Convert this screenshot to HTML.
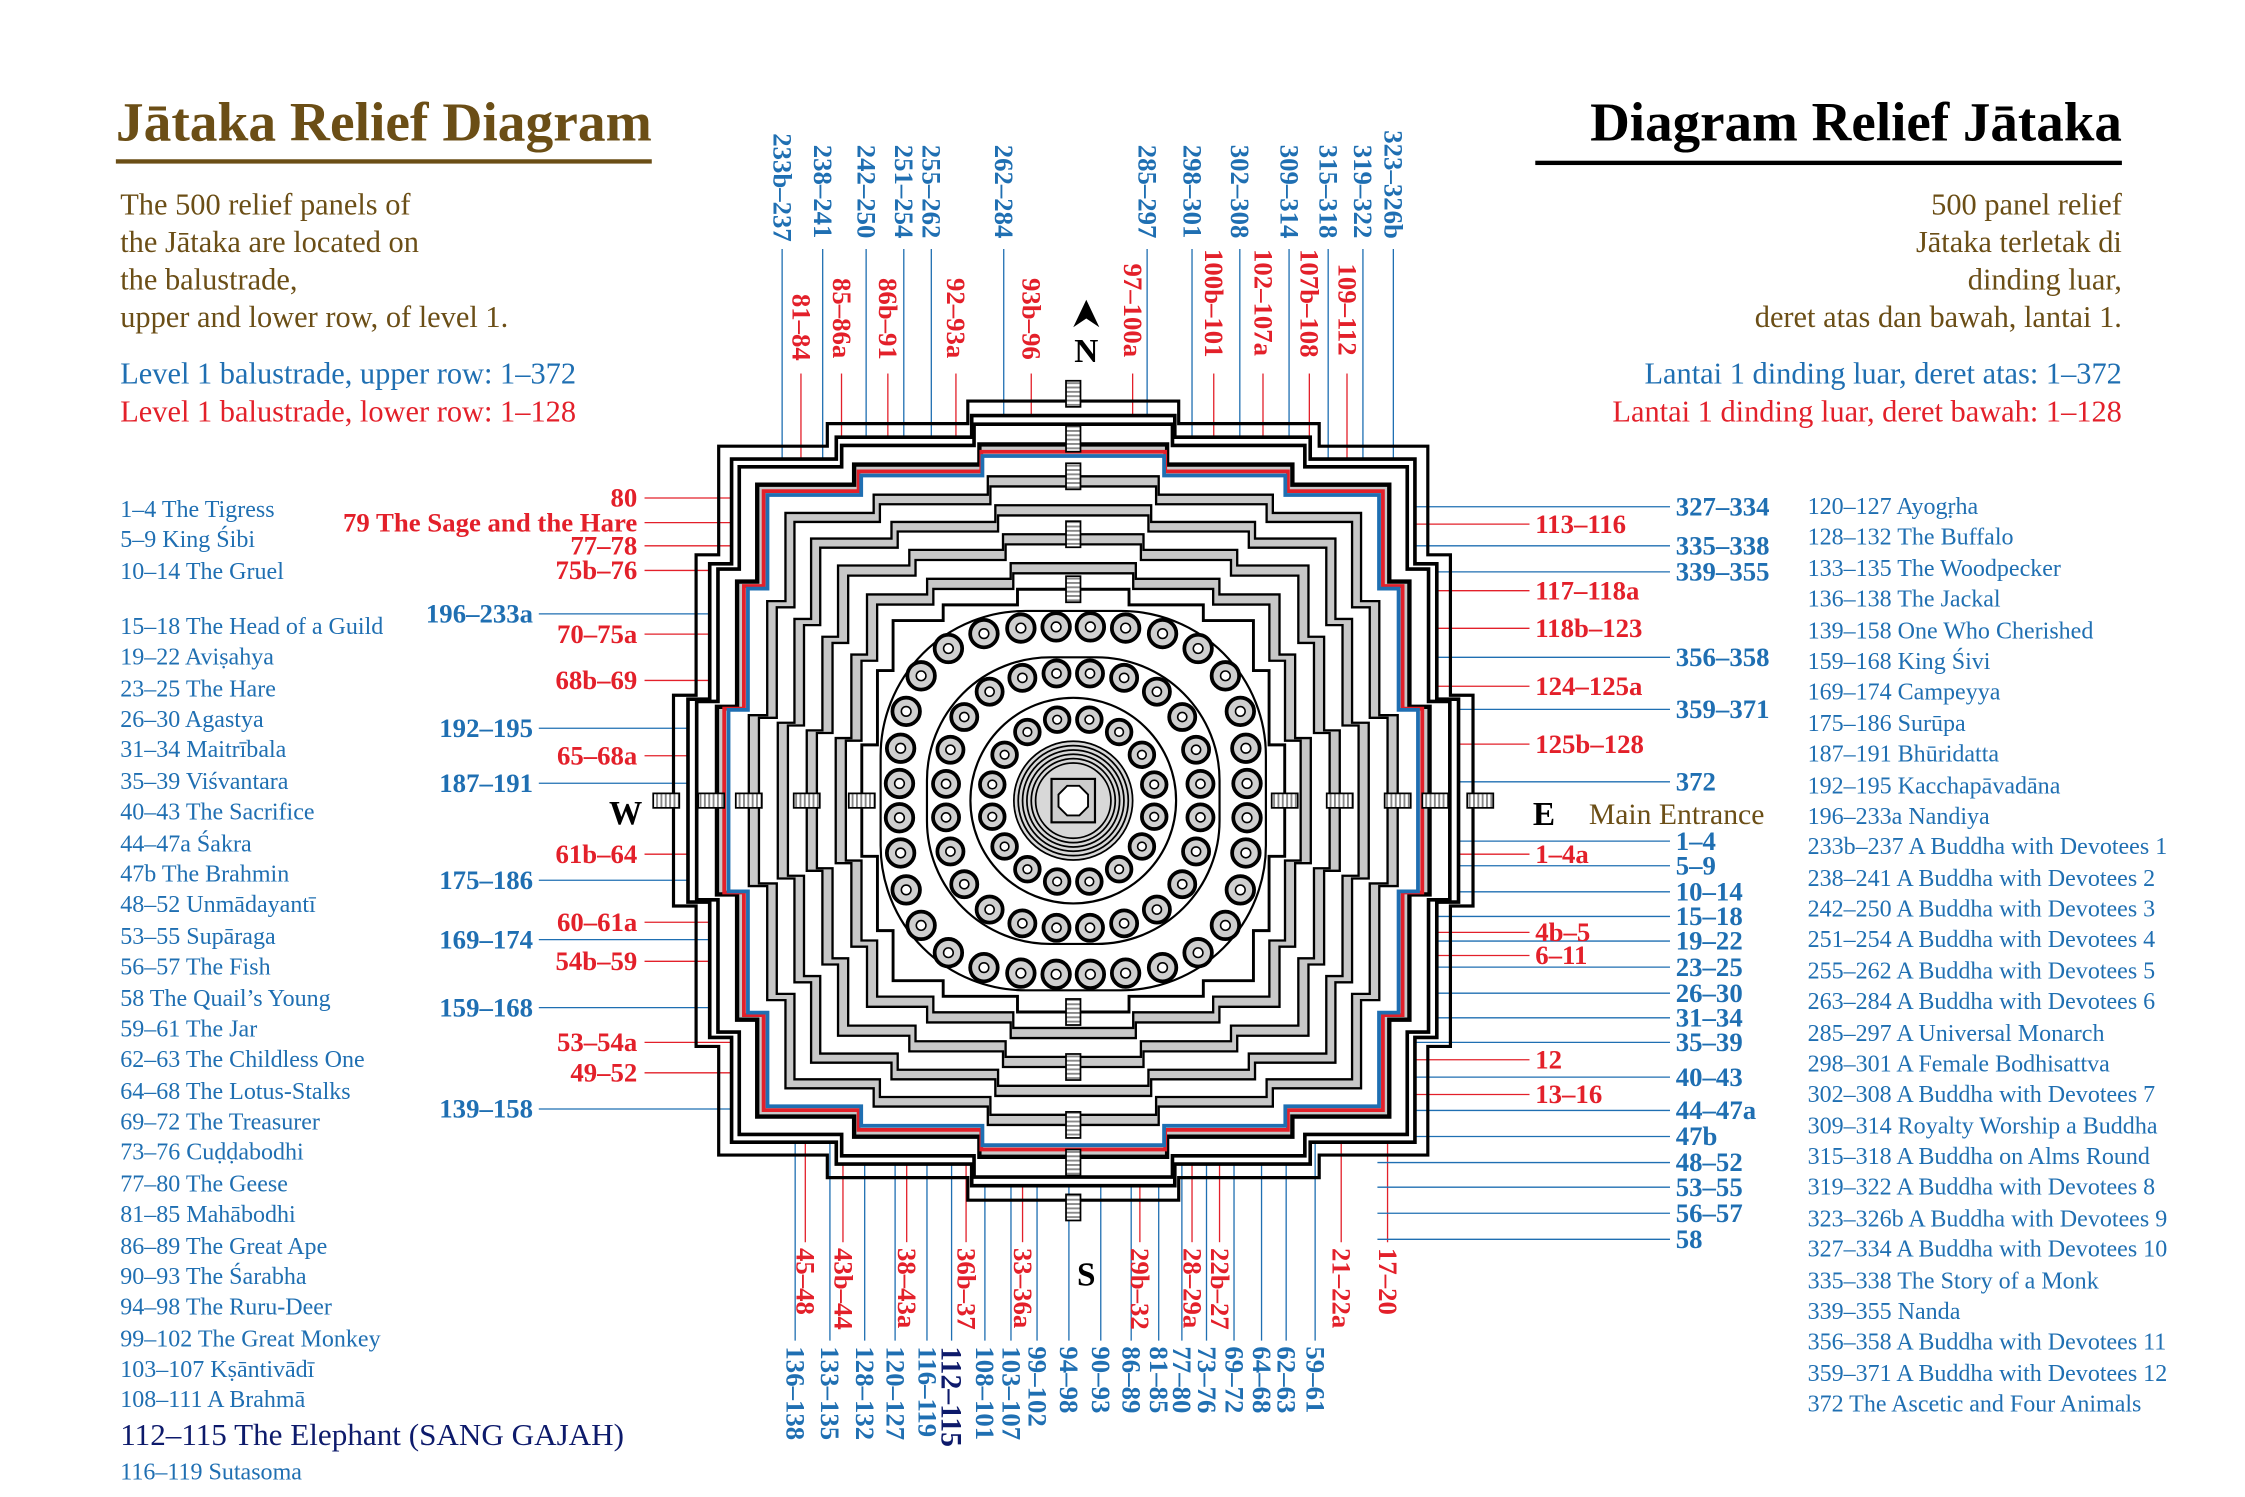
<!DOCTYPE html>
<html><head><meta charset="utf-8">
<style>
html,body{margin:0;padding:0;background:#fff}
svg{display:block}
text{font-family:"Liberation Serif",serif}
.b{fill:#1f6fb2}.r{fill:#e3202a}.br{fill:#6b4e16}
.lb{font-size:18.5px;font-weight:bold}
.ls{font-size:16.6px}
</style></head><body>
<svg id="s" xmlns="http://www.w3.org/2000/svg" width="2245" height="1497" viewBox="0 0 1550 1034" preserveAspectRatio="none">
<defs>
<pattern id="hv" width="3" height="3" patternUnits="userSpaceOnUse"><rect width="3" height="3" fill="#fff"/><rect width="3" height="1.3" fill="#888"/></pattern>
<pattern id="hh" width="3" height="3" patternUnits="userSpaceOnUse"><rect width="3" height="3" fill="#fff"/><rect width="1.3" height="3" fill="#888"/></pattern>
</defs>
<g id="lines"></g>
<g id="plan"></g>

<!-- Titles -->
<text x="80" y="97" font-size="38" font-weight="bold" class="br" textLength="370" lengthAdjust="spacingAndGlyphs">Jātaka Relief Diagram</text>
<rect x="80" y="110" width="370" height="3" fill="#6b4e16"/>
<text x="1465" y="97" font-size="38" font-weight="bold" text-anchor="end" fill="#000">Diagram Relief Jātaka</text>
<rect x="1060" y="111" width="405" height="3" fill="#000"/>

<g font-size="21" class="br">
<text x="83" y="148">The 500 relief panels of</text>
<text x="83" y="174">the Jātaka are located on</text>
<text x="83" y="200">the balustrade,</text>
<text x="83" y="226">upper and lower row, of level 1.</text>
</g>
<text x="83" y="265" font-size="21" class="b">Level 1 balustrade, upper row: 1–372</text>
<text x="83" y="291" font-size="21" class="r">Level 1 balustrade, lower row: 1–128</text>

<g font-size="21" class="br" text-anchor="end">
<text x="1465" y="148">500 panel relief</text>
<text x="1465" y="174">Jātaka terletak di</text>
<text x="1465" y="200">dinding luar,</text>
<text x="1465" y="226">deret atas dan bawah, lantai 1.</text>
</g>
<text x="1465" y="265" font-size="21" class="b" text-anchor="end">Lantai 1 dinding luar, deret atas: 1–372</text>
<text x="1465" y="291" font-size="21" class="r" text-anchor="end">Lantai 1 dinding luar, deret bawah: 1–128</text>

<!-- left list -->
<g class="b ls">
<text x="83" y="357">1–4 The Tigress</text>
<text x="83" y="378">5–9 King Śibi</text>
<text x="83" y="400">10–14 The Gruel</text>
<text x="83" y="438">15–18 The Head of a Guild</text>
<text x="83" y="459">19–22 Aviṣahya</text>
<text x="83" y="481">23–25 The Hare</text>
<text x="83" y="502">26–30 Agastya</text>
<text x="83" y="523">31–34 Maitrībala</text>
<text x="83" y="545">35–39 Viśvantara</text>
<text x="83" y="566">40–43 The Sacrifice</text>
<text x="83" y="588">44–47a Śakra</text>
<text x="83" y="609">47b The Brahmin</text>
<text x="83" y="630">48–52 Unmādayantī</text>
<text x="83" y="652">53–55 Supāraga</text>
<text x="83" y="673">56–57 The Fish</text>
<text x="83" y="695">58 The Quail’s Young</text>
<text x="83" y="716">59–61 The Jar</text>
<text x="83" y="737">62–63 The Childless One</text>
<text x="83" y="759">64–68 The Lotus-Stalks</text>
<text x="83" y="780">69–72 The Treasurer</text>
<text x="83" y="801">73–76 Cuḍḍabodhi</text>
<text x="83" y="823">77–80 The Geese</text>
<text x="83" y="844">81–85 Mahābodhi</text>
<text x="83" y="866">86–89 The Great Ape</text>
<text x="83" y="887">90–93 The Śarabha</text>
<text x="83" y="908">94–98 The Ruru-Deer</text>
<text x="83" y="930">99–102 The Great Monkey</text>
<text x="83" y="951">103–107 Kṣāntivādī</text>
<text x="83" y="972">108–111 A Brahmā</text>
<text x="83" y="998" font-size="21.5" fill="#0d1a6b">112–115 The Elephant (SANG GAJAH)</text>
<text x="83" y="1022">116–119 Sutasoma</text>
</g>
<!-- right list -->
<g class="b ls">
<text x="1248" y="355">120–127 Ayogṛha</text>
<text x="1248" y="376">128–132 The Buffalo</text>
<text x="1248" y="398">133–135 The Woodpecker</text>
<text x="1248" y="419">136–138 The Jackal</text>
<text x="1248" y="441">139–158 One Who Cherished</text>
<text x="1248" y="462">159–168 King Śivi</text>
<text x="1248" y="483">169–174 Campeyya</text>
<text x="1248" y="505">175–186 Surūpa</text>
<text x="1248" y="526">187–191 Bhūridatta</text>
<text x="1248" y="548">192–195 Kacchapāvadāna</text>
<text x="1248" y="569">196–233a Nandiya</text>
<text x="1248" y="590">233b–237 A Buddha with Devotees 1</text>
<text x="1248" y="612">238–241 A Buddha with Devotees 2</text>
<text x="1248" y="633">242–250 A Buddha with Devotees 3</text>
<text x="1248" y="654">251–254 A Buddha with Devotees 4</text>
<text x="1248" y="676">255–262 A Buddha with Devotees 5</text>
<text x="1248" y="697">263–284 A Buddha with Devotees 6</text>
<text x="1248" y="719">285–297 A Universal Monarch</text>
<text x="1248" y="740">298–301 A Female Bodhisattva</text>
<text x="1248" y="761">302–308 A Buddha with Devotees 7</text>
<text x="1248" y="783">309–314 Royalty Worship a Buddha</text>
<text x="1248" y="804">315–318 A Buddha on Alms Round</text>
<text x="1248" y="825">319–322 A Buddha with Devotees 8</text>
<text x="1248" y="847">323–326b A Buddha with Devotees 9</text>
<text x="1248" y="868">327–334 A Buddha with Devotees 10</text>
<text x="1248" y="890">335–338 The Story of a Monk</text>
<text x="1248" y="911">339–355 Nanda</text>
<text x="1248" y="932">356–358 A Buddha with Devotees 11</text>
<text x="1248" y="954">359–371 A Buddha with Devotees 12</text>
<text x="1248" y="975">372 The Ascetic and Four Animals</text>
</g>

<!-- compass -->
<polygon points="750,207 741,226 750,220 759,226" fill="#000"/>
<g font-size="23" font-weight="bold" fill="#000" text-anchor="middle">
<text x="750" y="250">N</text>
<text x="750" y="888">S</text>
<text x="432" y="569">W</text>
<text x="1066" y="570">E</text>
</g>
<text x="1097" y="569" font-size="20.5" class="br">Main Entrance</text>

<!-- left labels -->
<g class="r lb" text-anchor="end">
<text x="440" y="350">80</text>
<text x="440" y="367">79 The Sage and the Hare</text>
<text x="440" y="383">77–78</text>
<text x="440" y="400">75b–76</text>
<text x="440" y="444">70–75a</text>
<text x="440" y="476">68b–69</text>
<text x="440" y="528">65–68a</text>
<text x="440" y="596">61b–64</text>
<text x="440" y="643">60–61a</text>
<text x="440" y="670">54b–59</text>
<text x="440" y="726">53–54a</text>
<text x="440" y="747">49–52</text>
</g>
<g class="b lb" text-anchor="end">
<text x="368" y="430">196–233a</text>
<text x="368" y="509">192–195</text>
<text x="368" y="547">187–191</text>
<text x="368" y="614">175–186</text>
<text x="368" y="655">169–174</text>
<text x="368" y="702">159–168</text>
<text x="368" y="772">139–158</text>
</g>
<!-- right labels -->
<g class="r lb">
<text x="1060" y="368">113–116</text>
<text x="1060" y="414">117–118a</text>
<text x="1060" y="440">118b–123</text>
<text x="1060" y="480">124–125a</text>
<text x="1060" y="520">125b–128</text>
<text x="1060" y="596">1–4a</text>
<text x="1060" y="650">4b–5</text>
<text x="1060" y="666">6–11</text>
<text x="1060" y="738">12</text>
<text x="1060" y="762">13–16</text>
</g>
<g class="b lb">
<text x="1157" y="356">327–334</text>
<text x="1157" y="383">335–338</text>
<text x="1157" y="401">339–355</text>
<text x="1157" y="460">356–358</text>
<text x="1157" y="496">359–371</text>
<text x="1157" y="546">372</text>
<text x="1157" y="587">1–4</text>
<text x="1157" y="604">5–9</text>
<text x="1157" y="622">10–14</text>
<text x="1157" y="639">15–18</text>
<text x="1157" y="656">19–22</text>
<text x="1157" y="674">23–25</text>
<text x="1157" y="692">26–30</text>
<text x="1157" y="709">31–34</text>
<text x="1157" y="726">35–39</text>
<text x="1157" y="750">40–43</text>
<text x="1157" y="773">44–47a</text>
<text x="1157" y="791">47b</text>
<text x="1157" y="809">48–52</text>
<text x="1157" y="826">53–55</text>
<text x="1157" y="844">56–57</text>
<text x="1157" y="862">58</text>
</g>

<!-- top labels (rotated) -->
<g class="b lb">
<text transform="translate(534,92) rotate(90)">233b–237</text>
<text transform="translate(562,100) rotate(90)">238–241</text>
<text transform="translate(592,100) rotate(90)">242–250</text>
<text transform="translate(618,100) rotate(90)">251–254</text>
<text transform="translate(637,100) rotate(90)">255–262</text>
<text transform="translate(687,100) rotate(90)">262–284</text>
<text transform="translate(786,100) rotate(90)">285–297</text>
<text transform="translate(817,100) rotate(90)">298–301</text>
<text transform="translate(850,100) rotate(90)">302–308</text>
<text transform="translate(884,100) rotate(90)">309–314</text>
<text transform="translate(911,100) rotate(90)">315–318</text>
<text transform="translate(935,100) rotate(90)">319–322</text>
<text transform="translate(956,90) rotate(90)">323–326b</text>
</g>
<g class="r lb">
<text transform="translate(547,203) rotate(90)">81–84</text>
<text transform="translate(575,192) rotate(90)">85–86a</text>
<text transform="translate(607,192) rotate(90)">86b–91</text>
<text transform="translate(654,192) rotate(90)">92–93a</text>
<text transform="translate(706,192) rotate(90)">93b–96</text>
<text transform="translate(776,182) rotate(90)">97–100a</text>
<text transform="translate(832,172) rotate(90)">100b–101</text>
<text transform="translate(866,172) rotate(90)">102–107a</text>
<text transform="translate(898,172) rotate(90)">107b–108</text>
<text transform="translate(924,182) rotate(90)">109–112</text>
</g>
<!-- bottom labels -->
<g class="r lb">
<text transform="translate(550,862) rotate(90)">45–48</text>
<text transform="translate(576,862) rotate(90)">43b–44</text>
<text transform="translate(620,862) rotate(90)">38–43a</text>
<text transform="translate(661,862) rotate(90)">36b–37</text>
<text transform="translate(700,862) rotate(90)">33–36a</text>
<text transform="translate(781,862) rotate(90)">29b–32</text>
<text transform="translate(817,862) rotate(90)">28–29a</text>
<text transform="translate(836,862) rotate(90)">22b–27</text>
<text transform="translate(920,862) rotate(90)">21–22a</text>
<text transform="translate(952,862) rotate(90)">17–20</text>
</g>
<g class="b lb">
<text transform="translate(543,930) rotate(90)">136–138</text>
<text transform="translate(567,930) rotate(90)">133–135</text>
<text transform="translate(591,930) rotate(90)">128–132</text>
<text transform="translate(612,930) rotate(90)">120–127</text>
<text transform="translate(634,930) rotate(90)">116–119</text>
<text transform="translate(650,930) rotate(90)" fill="#0d1a6b" font-size="20.5">112–115</text>
<text transform="translate(674,930) rotate(90)">108–101</text>
<text transform="translate(692,930) rotate(90)">103–107</text>
<text transform="translate(710,930) rotate(90)">99–102</text>
<text transform="translate(732,930) rotate(90)">94–98</text>
<text transform="translate(754,930) rotate(90)">90–93</text>
<text transform="translate(775,930) rotate(90)">86–89</text>
<text transform="translate(794,930) rotate(90)">81–85</text>
<text transform="translate(810,930) rotate(90)">77–80</text>
<text transform="translate(827,930) rotate(90)">73–76</text>
<text transform="translate(846,930) rotate(90)">69–72</text>
<text transform="translate(865,930) rotate(90)">64–68</text>
<text transform="translate(882,930) rotate(90)">62–63</text>
<text transform="translate(902,930) rotate(90)">59–61</text>
</g>
</svg>
<script>
(function(){
var NS="http://www.w3.org/2000/svg",CX=741,CY=553;
var plan=document.getElementById('plan'),lines=document.getElementById('lines');
function el(p,t,a){var e=document.createElementNS(NS,t);for(var k in a)e.setAttribute(k,a[k]);p.appendChild(e);return e;}
function shape(R,d,w1,w2){var r=[R,R-d,R-2*d],w=[w1,w2],n=2,side=[[-r[n],-r[n]]];
 for(var i=n-1;i>=0;i--){side.push([-w[i],-r[i+1]]);side.push([-w[i],-r[i]]);}
 for(i=0;i<n;i++){side.push([w[i],-r[i]]);side.push([w[i],-r[i+1]]);}
 var pts=[],cur=side;for(var q=0;q<4;q++){pts=pts.concat(cur);cur=cur.map(function(p){return[-p[1],p[0]];});}
 return pts.map(function(p){return (CX+p[0]).toFixed(1)+','+(CY+p[1]).toFixed(1);}).join(' ');}
function S(R,a){var k=R/239;return el(plan,'polygon',Object.assign({points:shape(R,13.5*Math.max(k,0.8),63*k,147*k)},a));}
// foot
S(276,{fill:'none',stroke:'#000','stroke-width':2.2});
S(266,{fill:'#fff',stroke:'#000','stroke-width':2.5});
S(260,{fill:'#fff',stroke:'#000','stroke-width':2.5});
// wall
S(246,{fill:'#c8c8c8',stroke:'#000','stroke-width':3});
S(241,{fill:'none',stroke:'#e3202a','stroke-width':2.6});
S(238,{fill:'#fff',stroke:'#1f6fb2','stroke-width':2.6});
[224,204,184,164].forEach(function(R){
 S(R,{fill:'#c8c8c8',stroke:'#000','stroke-width':1.6});
 S(R-7,{fill:'#fff',stroke:'#000','stroke-width':1.6});
});
S(146,{fill:'#fff',stroke:'#000','stroke-width':2});
// stairs
[281,250,224,184,146].forEach(function(d,i){
 [[0,-1],[0,1],[-1,0],[1,0]].forEach(function(v){
  var x=CX+v[0]*d,y=CY+v[1]*d;
  if(v[0]==0) el(plan,'rect',{x:x-5,y:y-9,width:10,height:18,fill:'url(#hv)',stroke:'#000','stroke-width':1.2});
  else el(plan,'rect',{x:x-9,y:y-5,width:18,height:10,fill:'url(#hh)',stroke:'#000','stroke-width':1.2});
 });
});
// circular terraces
el(plan,'rect',{x:CX-133,y:CY-131,width:266,height:262,rx:100,ry:100,fill:'#fff',stroke:'#000','stroke-width':1.5});
el(plan,'rect',{x:CX-101,y:CY-99,width:202,height:198,rx:85,ry:85,fill:'#fff',stroke:'#000','stroke-width':1.5});
el(plan,'circle',{cx:CX,cy:CY,r:71,fill:'#fff',stroke:'#000','stroke-width':1.5});
function ring(n,r,p,sr){for(var k=0;k<n;k++){var t=2*Math.PI*(k+0.5)/n,c=Math.cos(t),s=Math.sin(t);
 var rho=r/Math.pow(Math.pow(Math.abs(c),p)+Math.pow(Math.abs(s),p),1/p);
 var x=CX+rho*c,y=CY+rho*s;
 el(plan,'circle',{cx:x,cy:y,r:sr,fill:'#cfcfcf',stroke:'#000','stroke-width':2.6});
 el(plan,'circle',{cx:x,cy:y,r:sr*0.35,fill:'#fff',stroke:'#000','stroke-width':1.1});}}
ring(32,120,3.2,9.5);ring(24,88,2.6,9);ring(16,57,2,8.5);
[41,38,35,32,29,26].forEach(function(r){el(plan,'circle',{cx:CX,cy:CY,r:r,fill:'#d8d8d8',stroke:'#000','stroke-width':1.2});});
el(plan,'rect',{x:CX-15,y:CY-15,width:30,height:30,fill:'#ccc',stroke:'#000','stroke-width':1.5});
var oc=[];for(var i=0;i<8;i++){var a=Math.PI/8+i*Math.PI/4;oc.push((CX+11*Math.cos(a)).toFixed(1)+','+(CY+11*Math.sin(a)).toFixed(1));}
el(plan,'polygon',{points:oc.join(' '),fill:'#fff',stroke:'#000','stroke-width':1.3});
// leader lines
function wallT(x){var d=Math.abs(x-CX);return CY-(d<63?239:d<147?225.5:212);}
function wallB(x){return 2*CY-wallT(x);}
function wallL(y){var d=Math.abs(y-CY);return CX-(d<63?239:d<147?225.5:212);}
function wallR(y){return 2*CX-wallL(y);}
var B='#1f6fb2',Rd='#e3202a';
function L(x1,y1,x2,y2,c){el(lines,'line',{x1:x1,y1:y1,x2:x2,y2:y2,stroke:c,'stroke-width':0.9});}
[540,568,598,624,643,693,792,823,856,890,917,941,962].forEach(function(x){L(x,172,x,wallT(x)+2,B);});
[553,581,613,660,712,782,838,872,904,930].forEach(function(x){L(x,258,x,wallT(x)+2,Rd);});
[556,582,626,667,706,787,823,842,926,958].forEach(function(x){L(x,wallB(x)-2,x,858,Rd);});
[549,573,597,618,640,657,680,698,716,738,760,781,800,816,833,852,871,888,908].forEach(function(x){L(x,wallB(x)-2,x,926,B);});
[344,361,377,394,438,470,522,590,637,664,720,741].forEach(function(y){L(445,y,wallL(y)+2,y,Rd);});
[424,503,541,608,649,696,766].forEach(function(y){L(372,y,wallL(y)+2,y,B);});
[362,408,434,474,514,590,644,660,732,756].forEach(function(y){L(wallR(y)-2,y,1056,y,Rd);});
[350,377,395,454,490,540,581,598,616,633,650,668,686,703,720,744,767,785,803,820,838,856].forEach(function(y){L(wallR(y)-2,y,1153,y,B);});
})();
</script>
</body></html>
